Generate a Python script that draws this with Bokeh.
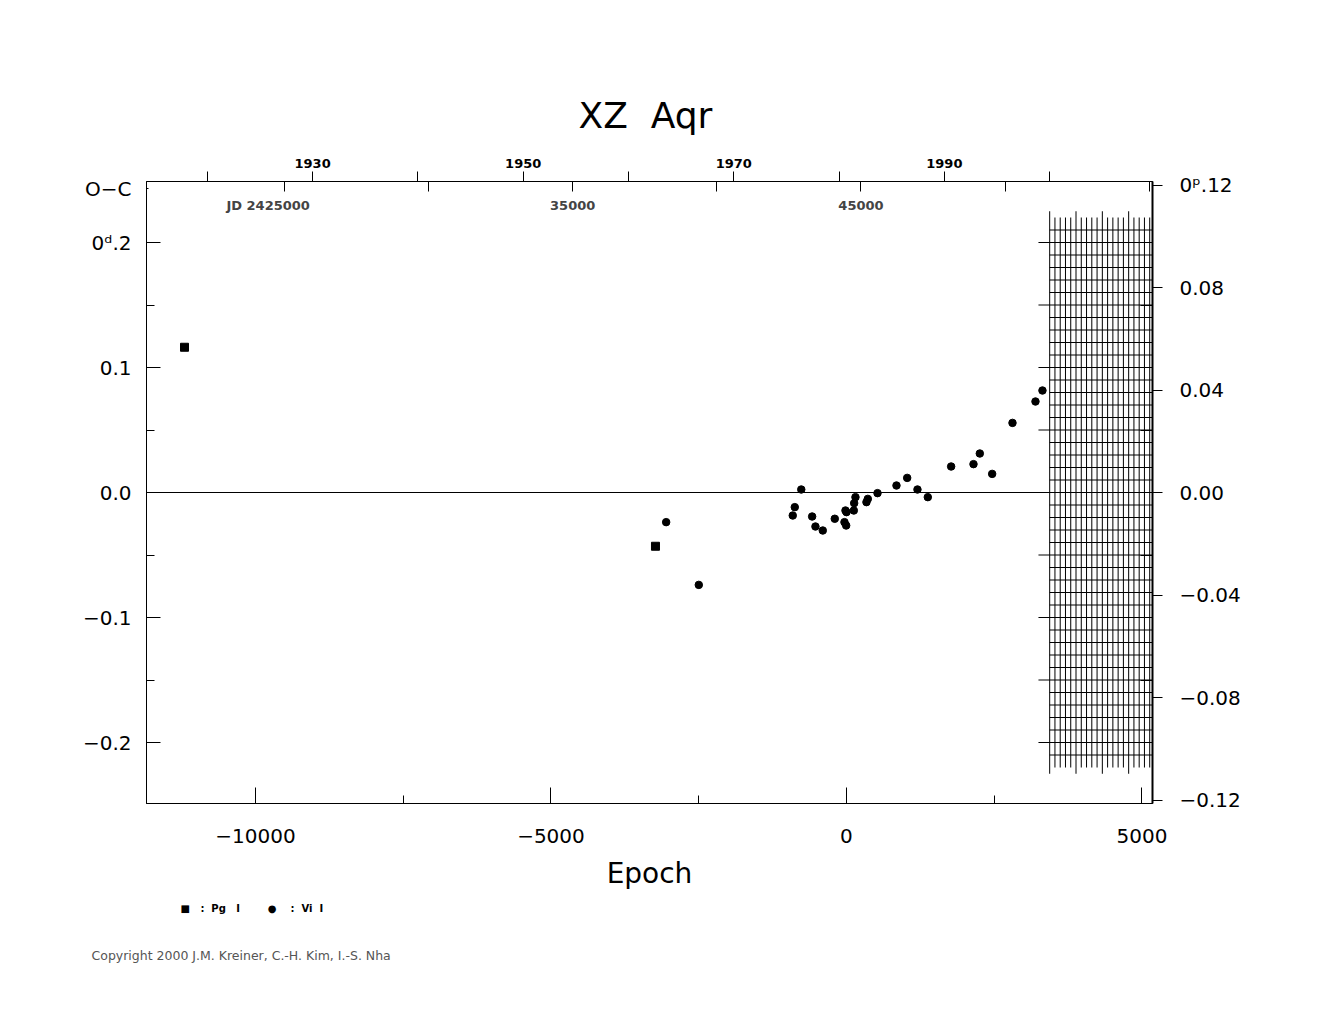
import numpy as np
from bokeh.plotting import figure
from bokeh.models import Range1d, LinearAxis, FixedTicker, Label, Span, Title, BoxAnnotation
from bokeh.embed import file_html
from bokeh.resources import INLINE

# ---------------- data ----------------
star_name = "XZ\u00a0\u00a0Aqr"
period_days = 2.05
t0_jd = 2444497.0

pg_epoch = [-11201, -3232]
pg_oc = [0.1162, -0.0430]

vi_epoch = [-3051, -2499, -909, -875, -765, -581, -525, -401, -198, -34, -5, -17, 0,
            124, 130, 152, 338, 361, 525, 846, 1027, 1201, 1376, 1771, 2149, 2256,
            2465, 2809, 3198, 3316]
vi_oc = [-0.0237, -0.0739, -0.0184, -0.0117, 0.0024, -0.0192, -0.0272, -0.0304,
         -0.0210, -0.0237, -0.0264, -0.0144, -0.0157, -0.0144, -0.0085, -0.0037,
         -0.0077, -0.0051, -0.0005, 0.0056, 0.0117, 0.0024, -0.0037, 0.0208, 0.0227,
         0.0312, 0.0149, 0.0557, 0.0728, 0.0816]

bottom_ticks = [-10000, -5000, 0, 5000]
bottom_minor = [-7500, -2500, 2500]
bottom_labels = ["\u221210000", "\u22125000", "0", "5000"]

oc_label_pos = 0.2432
left_ticks = [-0.2, -0.1, 0.0, 0.1, 0.2, oc_label_pos]
left_minor = [-0.15, -0.05, 0.05, 0.15]
left_labels = ["\u22120.2", "\u22120.1", "0.0", "0.1", "0\u1d48.2", "O\u2212C"]

right_ticks = [-0.12, -0.08, -0.04, 0.0, 0.04, 0.08, 0.12]
right_labels = ["\u22120.12", "\u22120.08", "\u22120.04", "0.00", "0.04", "0.08", "0\u1d56.12"]
right_inner_ticks_d = [-0.2, -0.15, -0.1, -0.05, 0.05, 0.1, 0.15, 0.2]

year_ticks = [1920, 1930, 1940, 1950, 1960, 1970, 1980, 1990, 2000]
year_labels = ["", "1930", "", "1950", "", "1970", "", "1990", ""]

jd_ticks = [2425000, 2430000, 2435000, 2440000, 2445000, 2450000, 2455000]
jd_labels = ["JD  2425000", "", "35000", "", "45000", "", ""]

grid_years = [2000.0, 2000.5, 2001.0, 2001.5, 2002.0, 2002.5, 2003.0, 2003.5, 2004.0,
              2004.5, 2005.0, 2005.5, 2006.0, 2006.5, 2007.0, 2007.5, 2008.0, 2008.5,
              2009.0, 2009.5]
grid_levels = [round(-0.21 + 0.01 * i, 2) for i in range(43)]

NB = "\u00a0"
legend_text = ("\u25a0" + NB * 3 + ":" + NB * 2 + "Pg" + NB * 3 + "I" + NB * 8 +
               "\u25cf" + NB * 4 + ":" + NB * 2 + "Vi" + NB * 2 + "I")
copyright_text = "Copyright 2000 J.M. Kreiner, C.-H. Kim, I.-S. Nha"

# ---------------- helpers ----------------
def year_to_epoch(y):
    jd = 2415020.5 + (y - 1900) * 365.25
    return (jd - t0_jd) / period_days

def jd_to_epoch(jd):
    return (jd - t0_jd) / period_days

XS, XE = -11844, 5178
YS, YE = -0.2488, 0.2488
FL, FR, FT, FB = 146, 1152, 181, 803  # frame in page px
XPX = (XE - XS) / (FR - FL)   # data units per pixel
YPX = (YE - YS) / (FB - FT)


def py2y(py):
    return YE - (py - FT) * YPX

FONT = "DejaVu Sans"

p = figure(frame_width=FR - FL, frame_height=FB - FT,
           x_range=Range1d(XS, XE), y_range=Range1d(YS, YE),
           output_backend="svg", toolbar_location=None,
           min_border_left=FL, min_border_top=FT,
           min_border_right=150, min_border_bottom=205,
           background_fill_color="white", border_fill_color="white",
           outline_line_color="black", outline_line_width=1)
p.grid.visible = False
p.extra_y_ranges = {"p": Range1d(YS / period_days, YE / period_days)}

p.title.text = star_name
p.title.align = "left"
p.title.offset = 432
p.title.text_font = FONT
p.title.text_font_size = "36px"
p.title.text_font_style = "normal"
p.title.text_color = "black"
p.title.standoff = 39


def style_axis(ax):
    ax.major_label_text_font = FONT
    ax.major_label_text_color = "black"
    ax.axis_line_color = "black"
    ax.major_tick_line_color = "black"
    ax.minor_tick_line_color = "black"

# bottom axis
bx = p.below[0]
style_axis(bx)
bx.ticker = FixedTicker(ticks=bottom_ticks, minor_ticks=bottom_minor)
bx.major_label_overrides = {t: l for t, l in zip(bottom_ticks, bottom_labels)}
bx.major_tick_in = 16
bx.major_tick_out = 0
bx.minor_tick_in = 8
bx.minor_tick_out = 0
bx.major_label_standoff = 25
bx.major_label_text_font_size = "20px"
bx.axis_label = "Epoch"
bx.axis_label_text_font = FONT
bx.axis_label_text_font_size = "28px"
bx.axis_label_text_font_style = "normal"
bx.axis_label_text_color = "black"
bx.axis_label_standoff = 11

# left axis
ly = p.left[0]
style_axis(ly)
ly.ticker = FixedTicker(ticks=left_ticks, minor_ticks=left_minor)
ly.major_label_overrides = {t: l for t, l in zip(left_ticks, left_labels)}
ly.major_tick_in = 14
ly.major_tick_out = 0
ly.minor_tick_in = 8
ly.minor_tick_out = 0
ly.major_label_standoff = 15
ly.major_label_text_font_size = "20px"

# right axis (fraction of period)
ry = LinearAxis(y_range_name="p",
                ticker=FixedTicker(ticks=right_ticks,
                                   minor_ticks=[d / period_days for d in right_inner_ticks_d]))
style_axis(ry)
ry.major_label_overrides = {t: l for t, l in zip(right_ticks, right_labels)}
ry.major_tick_out = 10
ry.major_tick_in = 0
ry.minor_tick_in = 12
ry.minor_tick_out = 0
ry.major_label_standoff = 17
ry.major_label_text_font_size = "20px"
ry.axis_line_width = 2
p.add_layout(ry, "right")

# top axis: years (outside) and JD (inside)
year_ep = [round(year_to_epoch(y), 3) for y in year_ticks]
jd_ep = [round(jd_to_epoch(j), 3) for j in jd_ticks]
tx = LinearAxis(ticker=FixedTicker(ticks=year_ep, minor_ticks=jd_ep))
style_axis(tx)
tx.major_label_overrides = {t: l for t, l in zip(year_ep, year_labels)}
tx.major_tick_out = 10
tx.major_tick_in = 0
tx.minor_tick_in = 10
tx.minor_tick_out = 0
tx.major_label_standoff = 4
tx.major_label_text_font_style = "bold"
tx.major_label_text_font_size = "13px"
p.add_layout(tx, "above")

for e, l in zip(jd_ep, jd_labels):
    if l:
        p.add_layout(Label(x=e, y=py2y(205), text=l, text_font=FONT,
                           text_font_size="13px", text_font_style="bold",
                           text_align="center", text_baseline="middle",
                           x_offset=(-14 if l.startswith("JD") else 0)))

# hide the tick mark that only carries the "O-C" caption
p.add_layout(BoxAnnotation(left=XS + 2 * XPX, right=XS + 17 * XPX,
                           bottom=oc_label_pos - 3 * YPX, top=oc_label_pos + 3 * YPX,
                           fill_color="white", fill_alpha=1.0, line_alpha=0.0,
                           level="overlay"))

# zero line
p.add_layout(Span(location=0, dimension="width", line_color="black", line_width=1))

# hatched grid region
gx = [year_to_epoch(g) for g in grid_years]
vx0, vy0, vy1 = [], [], []
for g, x in zip(grid_years, gx):
    tall = abs(((g - 2000.0) / 2.5) - round((g - 2000.0) / 2.5)) < 1e-9
    vx0.append(x)
    vy0.append(-0.225 if tall else -0.22)
    vy1.append(0.225 if tall else 0.22)
p.segment(x0=vx0, y0=vy0, x1=vx0, y1=vy1, line_color="black", line_width=1)
hx0, hx1 = [], []
for lv in grid_levels:
    long_line = abs(lv * 20 - round(lv * 20)) < 1e-9
    hx0.append(gx[0] - (190 if long_line else 0))
    hx1.append(XE)
p.segment(x0=hx0, y0=grid_levels, x1=hx1, y1=grid_levels, line_color="black", line_width=1)

# data
p.scatter(pg_epoch, pg_oc, marker="square", size=8, color="black")
p.scatter(vi_epoch, vi_oc, marker="circle", size=7.5, color="black")

# texts below the plot (legend and copyright) as titles
leg = Title(text=legend_text, align="left", offset=34, text_font=FONT,
            text_font_size="10px", text_font_style="bold", text_color="black", standoff=17)
p.add_layout(leg, "below")
cop = Title(text=copyright_text, align="left", offset=-55, text_font=FONT,
            text_font_size="12.5px", text_font_style="normal", text_color="#555555",
            standoff=46)
p.add_layout(cop, "below")

open("out.html", "w").write(file_html(p, INLINE))
